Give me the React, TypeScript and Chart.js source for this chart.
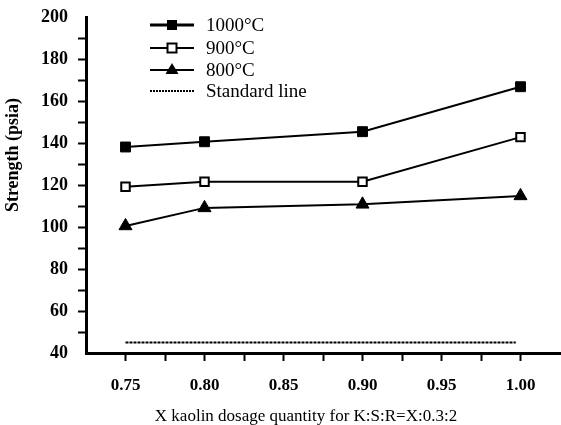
import React, { useEffect, useRef } from "react";
import { Chart, registerables } from "chart.js";

Chart.register(...registerables);

const X_VALUES = [0.75, 0.8, 0.9, 1.0];
const S1000 = [138.1, 140.6, 145.4, 166.8];
const S900 = [119.2, 121.6, 121.6, 142.8];
const S800 = [100.5, 109.1, 110.8, 114.8];
const STD_X = [0.75, 0.997];
const STD_Y = [45, 45];

const X_MAJOR = [0.75, 0.8, 0.85, 0.9, 0.95, 1.0];
const X_MINOR = [0.775, 0.825, 0.875, 0.925, 0.975];
const Y_TICKS = [40, 50, 60, 70, 80, 90, 100, 110, 120, 130, 140, 150, 160, 170, 180, 190, 200];
const Y_LABELS = [40, 60, 80, 100, 120, 140, 160, 180, 200];

const LEGEND = ["1000°C", "900°C", "800°C", "Standard line"];
const X_TITLE = "X kaolin dosage quantity for K:S:R=X:0.3:2";
const Y_TITLE = "Strength (psia)";

const FONT = "'Liberation Serif', 'Times New Roman', serif";

const pts = (xs: number[], ys: number[]) => xs.map((x, i) => ({ x, y: ys[i] }));

const overlayPlugin = {
  id: "overlay",
  afterDraw(chart: any) {
    const ctx = chart.ctx as CanvasRenderingContext2D;
    ctx.save();
    ctx.fillStyle = "#000";
    ctx.strokeStyle = "#000";
    // axis titles
    ctx.font = `17px ${FONT}`;
    ctx.textAlign = "center";
    ctx.textBaseline = "alphabetic";
    ctx.fillText(X_TITLE, 306, 421);
    ctx.save();
    ctx.translate(13, 155);
    ctx.rotate(-Math.PI / 2);
    ctx.font = `bold 18px ${FONT}`;
    ctx.textBaseline = "middle";
    ctx.fillText(Y_TITLE, 0, 0);
    ctx.restore();

    // legend
    const rows = [25, 48, 70, 91];
    const x0 = 150, x1 = 194, xm = 172, tx = 206;
    ctx.font = `19px ${FONT}`;
    ctx.textAlign = "left";
    ctx.textBaseline = "middle";
    rows.forEach((y, i) => {
      ctx.beginPath();
      if (i === 3) {
        ctx.setLineDash([2, 1]);
        ctx.lineWidth = 2;
      } else {
        ctx.setLineDash([]);
        ctx.lineWidth = i === 0 ? 3 : 2;
      }
      ctx.moveTo(x0, y);
      ctx.lineTo(x1, y);
      ctx.stroke();
      ctx.setLineDash([]);
      if (i === 0) {
        ctx.fillRect(xm - 5, y - 5, 10, 10);
      } else if (i === 1) {
        ctx.fillStyle = "#fff";
        ctx.fillRect(xm - 4.5, y - 4.5, 9, 9);
        ctx.fillStyle = "#000";
        ctx.lineWidth = 2;
        ctx.strokeRect(xm - 4.5, y - 4.5, 9, 9);
      } else if (i === 2) {
        ctx.beginPath();
        ctx.moveTo(xm, y - 7);
        ctx.lineTo(xm + 6.5, y + 4);
        ctx.lineTo(xm - 6.5, y + 4);
        ctx.closePath();
        ctx.fill();
      }
      ctx.fillText(LEGEND[i], tx, y + 1);
    });
    ctx.restore();
  },
};

export default function App() {
  const ref = useRef<HTMLCanvasElement | null>(null);
  useEffect(() => {
    if (!ref.current) return;
    const chart = new Chart(ref.current, {
      type: "line",
      data: {
        datasets: [
          {
            label: LEGEND[0],
            data: pts(X_VALUES, S1000),
            borderColor: "#000",
            backgroundColor: "#000",
            borderWidth: 2,
            pointStyle: "rect",
            pointRadius: 7,
            pointBorderWidth: 1,
            pointBackgroundColor: "#000",
            pointBorderColor: "#000",
          },
          {
            label: LEGEND[1],
            data: pts(X_VALUES, S900),
            borderColor: "#000",
            backgroundColor: "#fff",
            borderWidth: 2,
            pointStyle: "rect",
            pointRadius: 6,
            pointBorderWidth: 2,
            pointBackgroundColor: "#fff",
            pointBorderColor: "#000",
          },
          {
            label: LEGEND[2],
            data: pts(X_VALUES, S800),
            borderColor: "#000",
            backgroundColor: "#000",
            borderWidth: 2,
            pointStyle: "triangle",
            pointRadius: 7.5,
            pointBorderWidth: 1,
            pointBackgroundColor: "#000",
            pointBorderColor: "#000",
          },
          {
            label: LEGEND[3],
            data: pts(STD_X, STD_Y),
            borderColor: "#000",
            borderWidth: 2,
            borderDash: [3, 1],
            pointRadius: 0,
          },
        ],
      },
      options: {
        animation: false,
        responsive: false,
        maintainAspectRatio: false,
        layout: { autoPadding: false, padding: { top: 17, right: 1, left: 0, bottom: 0 } },
        plugins: { legend: { display: false }, tooltip: { enabled: false } },
        scales: {
          x: {
            type: "linear",
            min: 0.725,
            max: 1.025,
            afterBuildTicks: (s: any) => {
              s.ticks = [...X_MAJOR, ...X_MINOR].sort((a, b) => a - b).map((v) => ({ value: v }));
            },
            afterFit: (s: any) => {
              s.height = 72;
              s.paddingLeft = 0;
              s.paddingRight = 0;
            },
            border: { display: true, color: "#000", width: 3 },
            grid: {
              display: true,
              drawOnChartArea: false,
              drawTicks: true,
              tickLength: 8,
              tickWidth: 2,
              tickColor: "#000",
            },
            ticks: {
              autoSkip: false,
              maxRotation: 0,
              padding: 14,
              color: "#000",
              font: { family: FONT, size: 17, weight: "bold" },
              callback: (v: any) => (X_MAJOR.some((m) => Math.abs(m - v) < 1e-6) ? Number(v).toFixed(2) : ""),
            },
          },
          y: {
            type: "linear",
            min: 40,
            max: 200,
            afterBuildTicks: (s: any) => {
              s.ticks = Y_TICKS.map((v) => ({ value: v }));
            },
            afterFit: (s: any) => {
              s.width = 86;
              s.paddingTop = 0;
              s.paddingBottom = 0;
            },
            border: { display: true, color: "#000", width: 3 },
            grid: {
              display: true,
              drawOnChartArea: false,
              drawTicks: true,
              tickLength: 8,
              tickWidth: 2,
              tickColor: (c: any) =>
                c.tick && (c.tick.value === 40 || c.tick.value === 200) ? "rgba(0,0,0,0)" : "#000",
            },
            ticks: {
              autoSkip: false,
              padding: 10,
              color: "#000",
              font: { family: FONT, size: 18, weight: "bold" },
              callback: (v: any) => (Y_LABELS.includes(Number(v)) ? String(v) : ""),
            },
          },
        },
      },
      plugins: [overlayPlugin],
    } as any);
    return () => chart.destroy();
  }, []);
  return (
    <div style={{ position: "absolute", left: 0, top: 0, width: 561, height: 425, background: "#fff" }}>
      <canvas ref={ref} width={561} height={425} style={{ display: "block" }} />
    </div>
  );
}
